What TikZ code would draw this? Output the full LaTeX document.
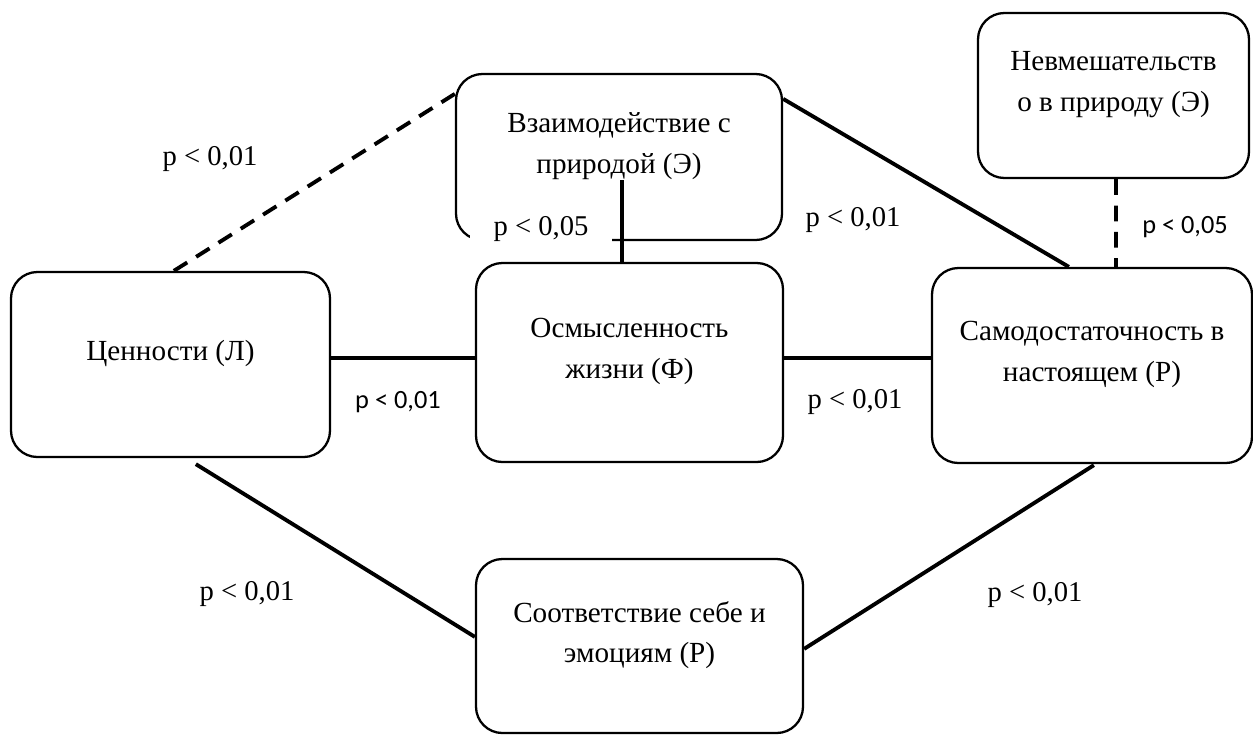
\documentclass[tikz,border=0pt]{standalone}
\usepackage{fontspec}
\setmainfont{Liberation Serif}
\newfontfamily\calibri{Carlito}
\usetikzlibrary{calc}
\tikzset{
  box/.style 2 args={% Style for the rounded boxes, size in pixels
      rectangle, rounded corners=15pt,
      line width=1.3pt,
      draw=black, fill=white,
      minimum width={#1*0.02cm},
      minimum height={#2*0.02cm},
      inner sep=0pt,
  },
  txt/.style={% Text of a box, set a little above its middle
      align=center,
      font=\fontsize{16.6}{23}\selectfont,
      yshift=0.22cm,
  },
  pval/.style={% Serif p-values
      inner sep=0pt,
      font=\fontsize{16.3}{19}\selectfont,
  },
  pvalsans/.style={% Sans p-values
      inner sep=0pt,
      font=\calibri\fontsize{15}{18}\selectfont,
  },
  conn/.style={line width=2.2pt},
  dashconn/.style={conn, dash pattern=on 9pt off 6pt},
}

\begin{document}
\begin{tikzpicture}[x=0.02cm, y=-0.02cm]
  \useasboundingbox (0,0) rectangle (1253,735);
  % boxes
  \node[box={319}{185}, label={[txt]center:Ценности (Л)}] (cen) at (170.5,364.5) {};
  \node[box={307}{199}, label={[txt]center:{Осмысленность\\жизни (Ф)}}] (osm) at (629.5,362.5) {};
  \node[box={326}{166}, label={[txt]center:{Взаимодействие с\\природой (Э)}}] (vzai) at (619,157) {};
  \node[box={271}{165}, label={[txt]center:{Невмешательств\\о в природу (Э)}}] (nevm) at (1113.5,95.5) {};
  \node[box={320}{195}, label={[txt]center:{Самодостаточность в\\настоящем (Р)}}] (samo) at (1092,365.5) {};
  \node[box={327}{174}, label={[txt]center:{Соответствие себе и\\эмоциям (Р)}}] (sootv) at (639.5,646) {};
  % p-values
  \node[pval] (p1) at (210,159) {p < 0,01};
  \node[pval, fill=white, minimum width={142*0.02cm}, minimum height={36*0.02cm}] (p2) at (541,229) {p < 0,05};
  \node[pval] (p3) at (853,220) {p < 0,01};
  \node[pvalsans] (p4) at (1185,227) {p < 0,05};
  \node[pvalsans] (p5) at (398,402) {p < 0,01};
  \node[pval] (p6) at (855,402) {p < 0,01};
  \node[pval] (p7) at (247,594) {p < 0,01};
  \node[pval] (p8) at (1035,595) {p < 0,01};
  % links
  \draw[dashconn] ($(cen.north west)+(164,0)$) -- ($(vzai.north west)+(0,21)$);
  \draw[conn] ($(vzai.north east)+(0,26)$) -- ($(samo.north west)+(138,0)$);
  \draw[conn] ($(vzai.center)+(3,23)$) -- ($(osm.north)+(-7.5,0)$);
  \draw[conn] ($(cen.east)+(0,-6.5)$) -- ($(osm.west)+(0,-4.5)$);
  \draw[conn] ($(osm.east)+(0,-4.5)$) -- ($(samo.west)+(0,-7.5)$);
  \draw[dashconn] ($(nevm.south)+(2.5,0)$) -- ($(samo.north)+(24,0)$);
  \draw[conn] ($(cen.south west)+(186,6)$) -- ($(sootv.north west)+(0,79)$);
  \draw[conn] ($(samo.south west)+(163,1)$) -- ($(sootv.north east)+(0,91)$);
\end{tikzpicture}
\end{document}
